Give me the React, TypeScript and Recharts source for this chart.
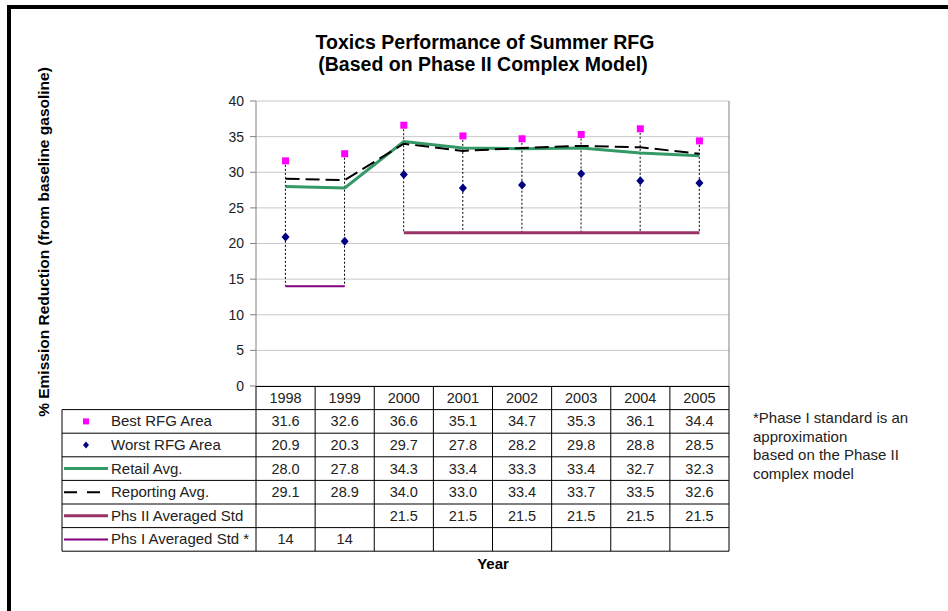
import React from "react"
import {
  ComposedChart,
  Line,
  Bar,
  XAxis,
  YAxis,
  CartesianGrid,
} from "recharts"

const years = ["1998", "1999", "2000", "2001", "2002", "2003", "2004", "2005"]
const best = [31.6, 32.6, 36.6, 35.1, 34.7, 35.3, 36.1, 34.4]
const worst = [20.9, 20.3, 29.7, 27.8, 28.2, 29.8, 28.8, 28.5]
const retail = [28.0, 27.8, 34.3, 33.4, 33.3, 33.4, 32.7, 32.3]
const reporting = [29.1, 28.9, 34.0, 33.0, 33.4, 33.7, 33.5, 32.6]
const phs2 = [null, null, 21.5, 21.5, 21.5, 21.5, 21.5, 21.5]
const phs1 = [14, 14, null, null, null, null, null, null]
const yTicks = [0, 5, 10, 15, 20, 25, 30, 35, 40]

const FONT = "Arial, 'Liberation Sans', sans-serif"
const W = 948
const H = 611
const plot = { left: 256, top: 101, right: 729, bottom: 386 }
const colW = (plot.right - plot.left) / years.length
const rowH = 23.6

const data = years.map((y, i) => {
  const vals = [best[i], worst[i], retail[i], reporting[i], phs2[i], phs1[i]].filter(
    (v) => v !== null
  ) as number[]
  return {
    year: y,
    best: best[i],
    worst: worst[i],
    retail: retail[i],
    reporting: reporting[i],
    phs2: phs2[i],
    phs1: phs1[i],
    range: [Math.min(...vals), Math.max(...vals)],
  }
})

const rows = [
  { name: "Best RFG Area", values: best, digits: 1, key: "square" },
  { name: "Worst RFG Area", values: worst, digits: 1, key: "diamond" },
  { name: "Retail Avg.", values: retail, digits: 1, key: "retail" },
  { name: "Reporting Avg.", values: reporting, digits: 1, key: "reporting" },
  { name: "Phs II Averaged Std", values: phs2, digits: 1, key: "phs2" },
  { name: "Phs I Averaged Std *", values: phs1, digits: 0, key: "phs1" },
]

const footnote = [
  "*Phase I standard is an",
  "approximation",
  "based on the Phase II",
  "complex model",
]

function Square(props: any) {
  const { cx, cy } = props
  if (cx == null || cy == null) return null
  return <rect x={cx - 3.5} y={cy - 3.5} width={7} height={7} fill="#ff00ff" />
}

function Diamond(props: any) {
  const { cx, cy } = props
  if (cx == null || cy == null) return null
  return (
    <path
      d={`M${cx},${cy - 4.5}L${cx + 4},${cy}L${cx},${cy + 4.5}L${cx - 4},${cy}Z`}
      fill="#000080"
    />
  )
}

// dotted high-low line from the best value down to the standard
function HighLow(props: any) {
  const { x, y, width, height } = props
  if (x == null || y == null) return null
  const cx = x + width / 2
  return (
    <line
      x1={cx}
      x2={cx}
      y1={y}
      y2={y + height}
      stroke="#000"
      strokeWidth={1}
      strokeDasharray="2 2"
    />
  )
}

function LegendKey({ kind, y }: { kind: string; y: number }) {
  if (kind === "square") return <rect x={83} y={y - 3} width={6} height={6} fill="#ff00ff" />
  if (kind === "diamond")
    return <path d={`M86,${y - 3.5}L89,${y}L86,${y + 3.5}L83,${y}Z`} fill="#000080" />
  const styles: any = {
    retail: { stroke: "#339966", w: 3 },
    reporting: { stroke: "#000", w: 2, dash: "13 10" },
    phs2: { stroke: "#993366", w: 3 },
    phs1: { stroke: "#800080", w: 2 },
  }
  const s = styles[kind]
  return (
    <line x1={64} x2={108} y1={y} y2={y} stroke={s.stroke} strokeWidth={s.w} strokeDasharray={s.dash} />
  )
}

export default function App() {
  const tableTop = plot.bottom
  const tableBottom = tableTop + rowH * (rows.length + 1)
  return (
    <div style={{ position: "absolute", left: 0, top: 0, width: W, height: H, background: "#fff", fontFamily: FONT }}>
      <ComposedChart
        width={W}
        height={H}
        data={data}
        margin={{ top: plot.top, right: W - plot.right, bottom: H - plot.bottom, left: plot.left - 60 }}
      >
        <CartesianGrid vertical={false} stroke="#c8c8c8" />
        <XAxis dataKey="year" type="category" hide />
        <YAxis
          width={60}
          domain={[0, 40]}
          ticks={yTicks}
          interval={0}
          tickSize={6}
          tickMargin={6}
          axisLine={{ stroke: "#808080" }}
          tickLine={{ stroke: "#808080" }}
          tick={{ fill: "#222", fontSize: 14, fontFamily: FONT }}
        />
        <Bar dataKey="range" shape={<HighLow />} isAnimationActive={false} />
        <Line dataKey="phs1" stroke="#800080" strokeWidth={2} dot={false} activeDot={false} isAnimationActive={false} />
        <Line dataKey="phs2" stroke="#993366" strokeWidth={3} dot={false} activeDot={false} isAnimationActive={false} />
        <Line dataKey="retail" stroke="#339966" strokeWidth={3} dot={false} activeDot={false} isAnimationActive={false} />
        <Line dataKey="reporting" stroke="#000" strokeWidth={2} strokeDasharray="14 6" dot={false} activeDot={false} isAnimationActive={false} />
        <Line dataKey="worst" stroke="none" dot={<Diamond />} activeDot={false} isAnimationActive={false} />
        <Line dataKey="best" stroke="none" dot={<Square />} activeDot={false} isAnimationActive={false} />
      </ComposedChart>

      <svg width={W} height={H} style={{ position: "absolute", left: 0, top: 0, pointerEvents: "none" }} fontFamily={FONT}>
        {/* frame */}
        <rect x={7} y={5} width={W} height={4} fill="#000" />
        <rect x={7} y={5} width={4} height={H} fill="#000" />

        {/* title */}
        <text x={485} y={49} textAnchor="middle" fontSize={19.5} fontWeight="bold">
          Toxics Performance of Summer RFG
        </text>
        <text x={483} y={71} textAnchor="middle" fontSize={19.5} fontWeight="bold">
          (Based on Phase II Complex Model)
        </text>

        <text transform="translate(49,242) rotate(-90)" textAnchor="middle" fontSize={15.5} fontWeight="bold">
          % Emission Reduction (from baseline gasoline)
        </text>

        {/* plot right border */}
        <line x1={plot.right} x2={plot.right} y1={plot.top} y2={plot.bottom} stroke="#808080" />

        {/* data table */}
        <g stroke="#000" strokeWidth={1}>
          <line x1={plot.left} x2={plot.right} y1={tableTop + 0.5} y2={tableTop + 0.5} />
          {rows.map((_, i) => (
            <line key={i} x1={62} x2={plot.right} y1={tableTop + rowH * (i + 1)} y2={tableTop + rowH * (i + 1)} />
          ))}
          <line x1={62} x2={plot.right} y1={tableBottom} y2={tableBottom} />
          <line x1={62} x2={62} y1={tableTop + rowH} y2={tableBottom} />
          {years.map((_, k) => (
            <line key={k} x1={plot.left + colW * k} x2={plot.left + colW * k} y1={tableTop} y2={tableBottom} />
          ))}
          <line x1={plot.right} x2={plot.right} y1={tableTop} y2={tableBottom} />
        </g>
        {years.map((y, k) => (
          <text key={y} x={plot.left + colW * (k + 0.5)} y={tableTop + rowH / 2 + 5} textAnchor="middle" fontSize={14.5} fill="#222">
            {y}
          </text>
        ))}
        {rows.map((r, i) => {
          const cy = tableTop + rowH * (i + 1.5)
          return (
            <g key={r.name}>
              <LegendKey kind={r.key} y={cy} />
              <text x={111} y={cy + 5} fontSize={15} fill="#222">
                {r.name}
              </text>
              {r.values.map((v, k) =>
                v === null ? null : (
                  <text key={k} x={plot.left + colW * (k + 0.5)} y={cy + 5} textAnchor="middle" fontSize={14.5} fill="#222">
                    {v.toFixed(r.digits)}
                  </text>
                )
              )}
            </g>
          )
        })}

        <text x={493} y={569} textAnchor="middle" fontSize={15} fontWeight="bold">
          Year
        </text>

        {footnote.map((t, i) => (
          <text key={i} x={753} y={423 + i * 18.7} fontSize={15} fill="#222">
            {t}
          </text>
        ))}
      </svg>
    </div>
  )
}
